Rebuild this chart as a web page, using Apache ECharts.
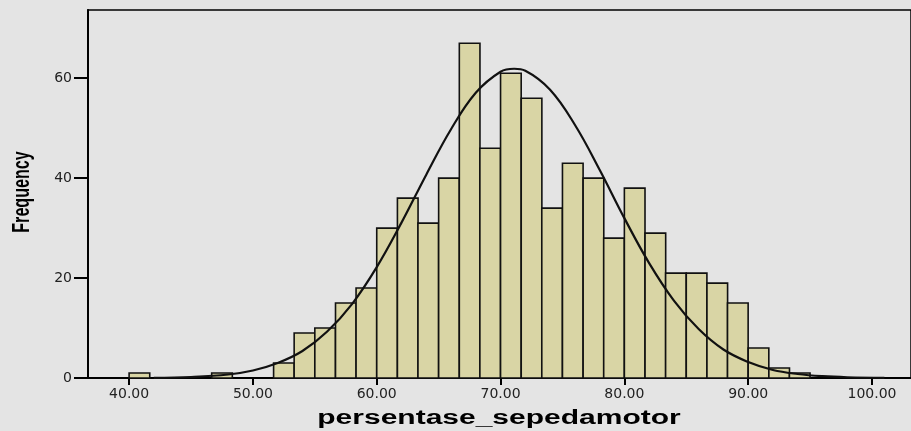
<!DOCTYPE html>
<html>
<head>
<meta charset="utf-8">
<script src="https://cdn.jsdelivr.net/npm/echarts@6/dist/echarts.min.js"></script>
<style>html,body{margin:0;padding:0;background:#e4e4e4;}#c{width:911px;height:431px;}</style>
</head>
<body>
<div id="c"></div>
<script>
// Histogram bins (start of each bin) and frequencies
const binWidth = 5 / 3;
const binStarts = [40.00, 46.67, 51.67, 53.33, 55.00, 56.67, 58.33, 60.00, 61.67, 63.33, 65.00, 66.67, 68.33, 70.00,
                   71.67, 73.33, 75.00, 76.67, 78.33, 80.00, 81.67, 83.33, 85.00, 86.67, 88.33, 90.00, 91.67, 93.33];
const frequencies = [1, 1, 3, 9, 10, 15, 18, 30, 36, 31, 40, 67, 46, 61,
                     56, 34, 43, 40, 28, 38, 29, 21, 21, 19, 15, 6, 2, 1];
// Normal curve points
const curveX = [42, 45, 48, 50, 52, 54, 56, 58, 60, 62, 64, 66, 68, 70, 71.1, 72, 74, 76, 78, 80, 82, 84, 86, 88, 90, 92, 94, 96, 98, 101];
const curveY = [0.02, 0.2, 0.7, 1.5, 3.0, 5.4, 9.3, 14.8, 22.2, 31.1, 40.7, 49.8, 57.1, 61.3, 61.9, 61.5, 57.7, 50.7, 41.7, 32.0, 23.0, 15.5, 9.8, 5.7, 3.2, 1.6, 0.8, 0.36, 0.15, 0.04];
const xTicks = [40, 50, 60, 70, 80, 90, 100];
const yTicks = [0, 20, 40, 60];
const xTitle = 'persentase_sepedamotor';
const yTitle = 'Frequency';

const chart = echarts.init(document.getElementById('c'), null, {renderer: 'canvas'});
const histData = binStarts.map((s, i) => [s, s + binWidth, frequencies[i]]);
const curveData = curveX.map((x, i) => [x, curveY[i]]);

chart.setOption({
  backgroundColor: '#e4e4e4',
  animation: false,
  grid: {left: 88, right: -4, top: 10, bottom: 53, show: true, borderColor: '#000', borderWidth: 1.5, backgroundColor: 'transparent'},
  xAxis: {
    type: 'value', min: 36.68, max: 103.15,
    axisLine: {show: true, onZero: false, lineStyle: {color: '#000', width: 2}},
    axisTick: {show: true, customValues: xTicks, length: 7, lineStyle: {color: '#000', width: 2}},
    axisLabel: {customValues: xTicks, margin: 9, color: '#222', fontFamily: 'DejaVu Sans', fontSize: 14,
                formatter: v => v.toFixed(2)},
    splitLine: {show: false}
  },
  yAxis: {
    type: 'value', min: 0, max: 73.66,
    axisLine: {show: true, lineStyle: {color: '#000', width: 2}},
    axisTick: {show: true, customValues: yTicks, length: 14, lineStyle: {color: '#000', width: 2}},
    axisLabel: {customValues: yTicks, margin: 16, color: '#222', fontFamily: 'DejaVu Sans', fontSize: 14},
    splitLine: {show: false}
  },
  series: [
    {
      type: 'custom',
      data: histData,
      encode: {x: [0, 1], y: 2},
      renderItem: function (params, api) {
        const p0 = api.coord([api.value(0), 0]);
        const p1 = api.coord([api.value(1), api.value(2)]);
        return {
          type: 'rect',
          shape: {x: p0[0], y: p1[1], width: p1[0] - p0[0], height: p0[1] - p1[1]},
          style: {fill: '#d9d5a5', stroke: '#111', lineWidth: 1.6}
        };
      },
      z: 2
    },
    {
      type: 'line',
      data: curveData,
      smooth: 0.4,
      showSymbol: false,
      lineStyle: {color: '#111', width: 2.2},
      z: 3
    }
  ],
  graphic: [
    {type: 'text', x: 499, y: 418, scaleX: 1.5,
     style: {text: xTitle, font: 'bold 20px "Liberation Sans"', fill: '#000', align: 'center', verticalAlign: 'middle'}},
    {type: 'text', x: 23, y: 192, rotation: Math.PI / 2, scaleX: 0.7,
     style: {text: yTitle, font: 'bold 23px "Liberation Sans"', fill: '#000', align: 'center', verticalAlign: 'middle'}}
  ]
});
</script>
</body>
</html>
